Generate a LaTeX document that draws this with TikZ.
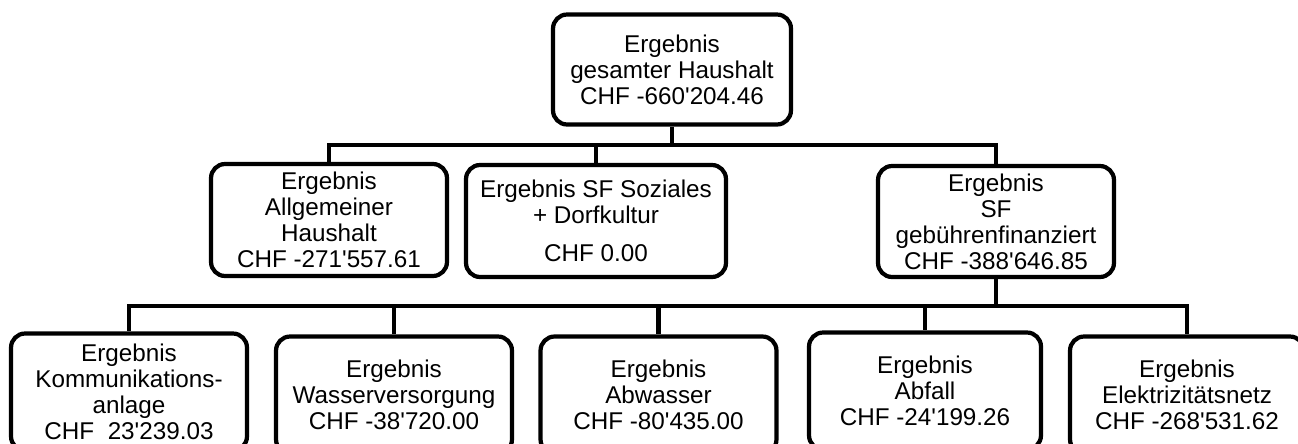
\documentclass[tikz,border=0pt]{standalone}
\usepackage{fontspec}
\setmainfont{Liberation Sans}
\newcommand{\ap}{\textquotesingle}
\begin{document}
\begin{tikzpicture}[x=0.02cm,y=-0.02cm,
    box/.style={draw,line width=2.4pt,rounded corners=8pt,align=center,inner sep=1pt,
      minimum width=4.72cm,minimum height=2.24cm,font=\fontsize{13.8}{14.8}\selectfont},
    conn/.style={line width=2.7pt}]
      % Draw frame
      \useasboundingbox (0,0) rectangle (1298,443);
      \clip (0,0) rectangle (1298,443);
      % Draw top box
      \node (gesamt) [box,minimum width=4.76cm,minimum height=2.2cm] at (672,69.5)
      {Ergebnis\\gesamter Haushalt\\CHF -660\ap204.46};
      % Draw second row
      \node (allg) [box] at (329,220) {Ergebnis\\Allgemeiner\\Haushalt\\CHF -271\ap557.61};
      \node (soz) [box,minimum width=5.2cm] at (596,221)
      {Ergebnis SF Soziales\\+ Dorfkultur\\[0.5em]CHF 0.00};
      \node (geb) [box,minimum height=2.22cm] at (996,221.5)
      {Ergebnis\\SF\\gebührenfinanziert\\CHF -388\ap646.85};
      % Draw third row
      \node (komm) [box,minimum height=2.34cm,text depth=0pt] at (129,392)
      {Ergebnis\\Kommunikations-\\anlage\\CHF\ \ 23\ap239.03};
      \node (wasser) [box,minimum height=2.34cm] at (394,395)
      {Ergebnis\\Wasserversorgung\\CHF -38\ap720.00};
      \node (abw) [box,minimum height=2.34cm] at (658.5,395)
      {Ergebnis\\Abwasser\\CHF -80\ap435.00};
      \node (abf) [box,minimum width=4.64cm,minimum height=2.34cm] at (925,391)
      {Ergebnis\\Abfall\\CHF -24\ap199.26};
      \node (elek) [box,minimum width=4.68cm,minimum height=2.34cm] at (1187,395)
      {Ergebnis\\Elektrizitätsnetz\\CHF -268\ap531.62};
      % Draw connectors
      \coordinate (bus1) at (672,145);
      \coordinate (bus2) at (996,306);
      \draw [conn] (gesamt) -- (bus1);
      \draw [conn] (bus1) -| (allg);
      \draw [conn] (bus1) -| (soz);
      \draw [conn] (bus1) -| (geb);
      \draw [conn] (geb) -- (bus2);
      \foreach \n in {komm,wasser,abw,abf,elek}
        \draw [conn] (bus2) -| (\n);
    \end{tikzpicture}
\end{document}
